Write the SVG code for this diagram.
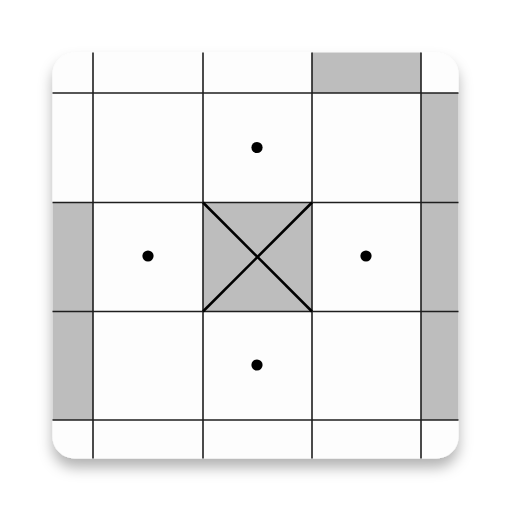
<svg xmlns="http://www.w3.org/2000/svg" width="512" height="512" viewBox="0 0 512 512">
<defs>
<clipPath id="clip"><rect x="52.5" y="52.5" width="406" height="406" rx="22"/></clipPath>
<filter id="sh" x="-20%" y="-20%" width="140%" height="150%">
<feDropShadow dx="0" dy="9" stdDeviation="7" flood-color="#000" flood-opacity="0.3"/>
</filter>
<style>
.g{stroke:#1e1e1e;stroke-width:1.6;fill:none}
.c{fill:#bdbdbd}
.x{stroke:#000;stroke-width:2.6;fill:none}
.d{fill:#000}
</style>
</defs>
<g id="base"><rect x="52.5" y="52.5" width="406" height="406" rx="22" fill="#fdfdfd" filter="url(#sh)"/></g>
<g id="cells" clip-path="url(#clip)">
<rect class="c" x="312" y="40" width="109" height="53"/>
<rect class="c" x="421" y="93" width="50" height="327"/>
<rect class="c" x="40" y="202.5" width="53" height="217.5"/>
<rect class="c" x="203" y="202.5" width="109" height="109"/>
</g>
<g id="grid" clip-path="url(#clip)">
<line class="g" x1="93" y1="40" x2="93" y2="470"/>
<line class="g" x1="203" y1="40" x2="203" y2="470"/>
<line class="g" x1="312" y1="40" x2="312" y2="470"/>
<line class="g" x1="421" y1="40" x2="421" y2="470"/>
<line class="g" x1="40" y1="93" x2="470" y2="93"/>
<line class="g" x1="40" y1="202.5" x2="470" y2="202.5"/>
<line class="g" x1="40" y1="311.5" x2="470" y2="311.5"/>
<line class="g" x1="40" y1="420" x2="470" y2="420"/>
</g>
<g id="cross">
<line class="x" x1="203" y1="202.5" x2="312" y2="311.5"/>
<line class="x" x1="312" y1="202.5" x2="203" y2="311.5"/>
</g>
<g id="dots">
<circle class="d" cx="257" cy="147.5" r="5.6"/>
<circle class="d" cx="148" cy="256" r="5.6"/>
<circle class="d" cx="366" cy="256" r="5.6"/>
<circle class="d" cx="257" cy="365" r="5.6"/>
</g>
</svg>
